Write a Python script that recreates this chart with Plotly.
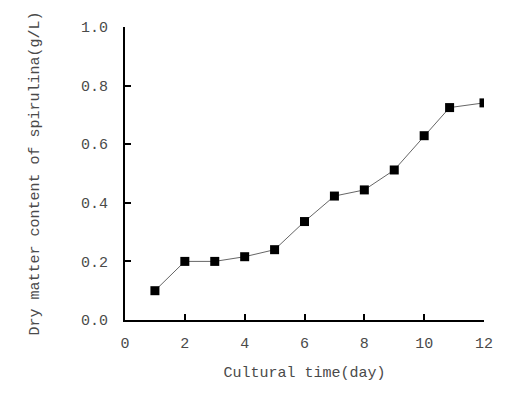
import plotly.graph_objects as go

days = [1, 2, 3, 4, 5, 6, 7, 8, 9, 10, 10.85, 12]
dry_matter = [0.10, 0.20, 0.20, 0.216, 0.24, 0.336, 0.423, 0.444, 0.512, 0.629, 0.725, 0.741]

x_ticks = [0, 2, 4, 6, 8, 10, 12]
y_ticks = [0.0, 0.2, 0.4, 0.6, 0.8, 1.0]

FONT = "Liberation Mono, DejaVu Sans Mono, monospace"
TXT = "#4a4a4a"

fig = go.Figure()
fig.add_trace(go.Scatter(
    x=days, y=dry_matter, mode="lines+markers",
    line=dict(color="#666666", width=1),
    marker=dict(symbol="square", size=9, color="black"),
    showlegend=False,
))

fig.update_layout(
    width=532, height=395,
    margin=dict(l=125, r=48, t=27, b=75),
    paper_bgcolor="white", plot_bgcolor="white",
    font=dict(family=FONT, size=15, color=TXT),
)
fig.update_xaxes(
    range=[0, 12], tickvals=x_ticks, ticktext=[str(v) for v in x_ticks],
    showgrid=False, zeroline=False, showline=True, linecolor="black", linewidth=2,
    ticks="inside", ticklen=6, tickwidth=2, tickcolor="black",
    ticklabelstandoff=8,
    title=dict(text="Cultural time(day)", standoff=14, font=dict(size=15, color=TXT)),
    automargin=False,
)
fig.update_yaxes(
    range=[0, 1.0], tickvals=y_ticks, ticktext=[f"{v:.1f}" for v in y_ticks],
    showgrid=False, zeroline=False, showline=True, linecolor="black", linewidth=2,
    ticks="inside", ticklen=6, tickwidth=2, tickcolor="black",
    ticklabelstandoff=12,
    title=dict(text="Dry matter content of spirulina(g/L)", standoff=38, font=dict(size=15, color=TXT)),
    automargin=False,
)

fig.write_html("out.html")
